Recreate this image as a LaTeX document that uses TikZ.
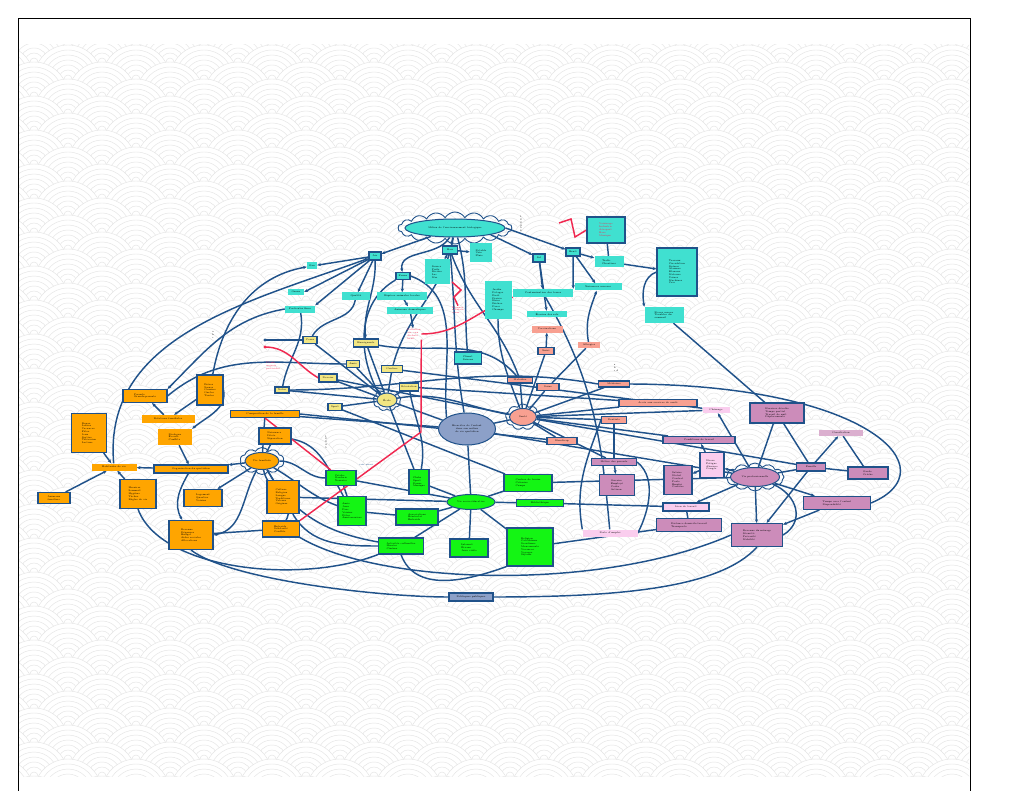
\documentclass[tikz,border=0pt]{standalone}
\usepackage{fontspec}
\usepackage{tikz}
\usetikzlibrary{arrows.meta,shapes.geometric,shapes.symbols,backgrounds}
\definecolor{mapteal}{RGB}{64,224,208}
\definecolor{maporange}{RGB}{255,165,0}
\definecolor{mapyellow}{RGB}{242,230,130}
\definecolor{mapsalmon}{RGB}{248,160,145}
\definecolor{mapmauve}{RGB}{204,140,186}
\definecolor{mappink}{RGB}{250,205,238}
\definecolor{mapgreen}{RGB}{20,245,20}
\definecolor{mapslate}{RGB}{140,160,200}
\definecolor{mapline}{RGB}{32,82,138}
\definecolor{mapred}{RGB}{240,40,80}
\definecolor{mapwave}{RGB}{228,228,228}
\newcommand{\mapfont}{\fontsize{2.4}{2.8}\selectfont}
\pgfdeclarelayer{edges}
\pgfsetlayers{background,edges,main}

\begin{document}
\begin{tikzpicture}[
  x=1pt,y=1pt,
  >={Stealth[length=3.8pt,width=3.2pt]},
  mapbox/.style={rectangle,inner sep=0.8pt,align=left,font=\mapfont,text=black},
  bd/.style={draw=mapline,line width=1.1pt},
  sz/.style 2 args={minimum width=#1,minimum height=#2},
  bio/.style={mapbox,fill=mapteal},
  biob/.style={bio,bd},
  sch/.style={mapbox,fill=mapyellow,bd},
  fam/.style={mapbox,fill=maporange},
  famb/.style={fam,bd},
  hlt/.style={mapbox,fill=mapsalmon},
  hltb/.style={hlt,bd},
  wrk/.style={mapbox,fill=mapmauve,bd},
  wrkl/.style={mapbox,fill=mappink},
  wrklb/.style={wrkl,bd},
  soc/.style={mapbox,fill=mapgreen,bd},
  hub/.style={ellipse,draw=mapline,line width=1pt,inner sep=0.5pt,font=\mapfont,align=center},
  ring/.style={cloud,cloud puffs=#1,cloud puff arc=120,cloud ignores aspect,draw=mapline,line width=0.9pt},
  redtext/.style={font=\mapfont,text=mapred,align=left,inner sep=0.5pt},
  note/.style={font=\mapfont,align=left,inner sep=0.5pt},
  link/.style={mapline,line width=1.45pt},
  arr/.style={link,->},
  redlink/.style={mapred,line width=1.45pt},
  wave/.style={mapwave,line width=0.45pt}
]
\useasboundingbox (0,0) rectangle (1024,-791);

% wave background
\begin{pgfonlayer}{background}
\fill[white] (0,0) rectangle (1024,-791);
\begin{scope}
  \clip (19,-45) rectangle (969,-776);
  \foreach \r in {0,...,45}{
    \foreach \c in {0,...,15}{
      \pgfmathsetmacro{\wx}{\c*68+mod(\r,2)*34}
      \pgfmathsetmacro{\wy}{-45-\r*17}
      \fill[white] (\wx-34,\wy) arc[start angle=180,end angle=0,radius=34] -- cycle;
      \foreach \k in {34,29,...,4}
        \draw[wave] (\wx-\k,\wy) arc[start angle=180,end angle=0,radius=\k];
    }
  }
\end{scope}
\draw[black,line width=0.8pt] (18,-791) -- (18,-18) -- (970,-18) -- (970,-791);
\end{pgfonlayer}

% environment (teal)
\node[ring=18,minimum width=114,minimum height=32] (envring) at (455,-228) {};
\node[hub,fill=mapteal,minimum width=100,minimum height=18] (env) at (455,-228) {Milieu de l'environnement biologique};
\node[biob,sz={12}{8}] (t1) at (375,-256) {Air};
\node[biob,sz={15}{8}] (t2) at (450,-250) {Eau};
\node[biob,sz={12}{8}] (t3) at (539,-258) {Sol};
\node[biob,sz={14}{8}] (t4) at (573,-252) {Bruit};
\node[biob,sz={14}{7}] (t5) at (403,-276) {Faune};
\node[bio,sz={10}{7}] (tl1) at (312,-266) {Gaz};
\node[bio,sz={16}{6}] (tl2) at (296,-292) {Ozone};
\node[bio,sz={30}{7}] (tl3) at (300,-309) {Particules fines};
\node[bio,sz={28}{7}] (tl4) at (356,-296) {Qualité};
\node[bio,sz={50}{7}] (tl5) at (402,-296) {Espèces animales locales};
\node[bio,sz={46}{7}] (tl6) at (410,-310) {Animaux domestiques};
\node[bio,sz={25}{25}] (tl7) at (437,-272) {Source\\Puits\\Rivière\\Lac\\Mer};
\node[bio,sz={22}{19}] (tl8) at (481,-253) {Potable\\Usée\\Pluie};
\node[bio,sz={27}{38}] (tl9) at (498,-300) {Jardin\\Potager\\Forêt\\Prairie\\Haies\\Friches\\Parcs\\Champs};
\node[bio,sz={60}{8}] (tl10) at (543,-293) {Contamination des terres};
\node[bio,sz={47}{7}] (tl11) at (598,-287) {Nuisances sonores};
\node[bio,sz={40}{6}] (tl12) at (547,-314) {Érosion des sols};
\node[bio,sz={29}{11}] (tl13) at (609,-262) {Trafic\\Chantiers};
\node[biob,sz={38}{26},text=mapred] (tb1) at (606,-230) {Voisinage\\Industrie\\Aéroport\\Bars\\Musique};
\node[biob,sz={40}{48}] (tb2) at (677,-272) {Travaux\\Circulation\\Sirènes\\Alarmes\\Klaxons\\Moteurs\\Usines\\Machines\\Cris};
\node[bio,sz={39}{16}] (tl14) at (664,-315) {Stress sonore\\Troubles du\\sommeil};
\node[biob,sz={27}{12}] (tb3) at (468,-358) {Climat\\Saisons};

% school (yellow)
\node[ring=9,minimum width=28,minimum height=22] (schoolring) at (387,-400) {};
\node[hub,fill=mapyellow,minimum width=20,minimum height=14] (school) at (387,-400) {École};
\node[sch,sz={14}{7}] (y1) at (310,-340) {Cours};
\node[sch,sz={25}{8}] (y2) at (366,-343) {Enseignants};
\node[sch,sz={13}{7}] (y3) at (353,-364) {Amis};
\node[sch,sz={21}{7}] (y4) at (392,-369) {Cantine};
\node[sch,sz={18}{8}] (y5) at (328,-378) {Devoirs};
\node[sch,sz={19}{8}] (y6) at (409,-387) {Récréation};
\node[sch,sz={14}{6}] (y7) at (282,-390) {Notes};
\node[sch,sz={14}{7}] (y8) at (335,-407) {Sport};

% family (orange)
\node[ring=10,minimum width=44,minimum height=27] (familyring) at (262,-461) {};
\node[hub,fill=maporange,minimum width=34,minimum height=17] (family) at (262,-461) {Vie familiale};
\node[famb,sz={44}{13}] (o1) at (145,-396) {Parents\\Grands-parents};
\node[famb,sz={26}{30}] (o2) at (210,-390) {Frères\\Sœurs\\Cousins\\Oncles\\Tantes};
\node[fam,sz={53}{8}] (o3) at (168,-419) {Relations familiales};
\node[famb,sz={35}{39}] (o4) at (89,-433) {Repas\\Loisirs\\Vacances\\Fêtes\\Jeux\\Sorties\\Télévision\\Lecture};
\node[fam,sz={34}{16}] (o5) at (175,-437) {Dialogue\\Écoute\\Conflits};
\node[fam,sz={45}{7}] (o6) at (114,-467) {Habitudes de vie};
\node[famb,sz={74}{8}] (o7) at (191,-469) {Organisation du quotidien};
\node[famb,sz={36}{29}] (o8) at (138,-494) {Horaires\\Sommeil\\Hygiène\\Tâches\\Règles de vie};
\node[famb,sz={32}{11}] (o9) at (54,-498) {Animaux\\familiers};
\node[famb,sz={38}{17}] (o10) at (203,-498) {Logement\\Quartier\\Voisins};
\node[famb,sz={44}{29}] (o11) at (191,-535) {Revenus\\Dépenses\\Budget\\Aides sociales\\Allocations};
\node[famb,sz={69}{7}] (o12) at (265,-414) {Composition de la famille};
\node[famb,sz={32}{16}] (o13) at (275,-436) {Naissance\\Décès\\Séparation};
\node[famb,sz={32}{33}] (o14) at (283,-497) {Culture\\Religion\\Langue\\Traditions\\Valeurs\\Origines};
\node[famb,sz={37}{16}] (o15) at (281,-529) {Entraide\\Solidarité\\Conflits};

% health (salmon)
\node[ring=9,minimum width=35,minimum height=26] (healthring) at (523,-417) {};
\node[hub,fill=mapsalmon,minimum width=27,minimum height=17] (health) at (523,-417) {Santé};
\node[hlt,sz={31}{7}] (s1) at (547,-329) {Vaccinations};
\node[hltb,sz={16}{7}] (s2) at (546,-351) {Suivi};
\node[hlt,sz={22}{6}] (s3) at (589,-345) {Allergies};
\node[hltb,sz={25}{6}] (s4) at (520,-380) {Maladies};
\node[hltb,sz={22}{7}] (s5) at (548,-387) {Soins};
\node[hltb,sz={31}{6}] (s6) at (614,-384) {Médecins};
\node[hltb,sz={25}{7}] (s7) at (614,-420) {Dentiste};
\node[hltb,sz={30}{7}] (s8) at (562,-441) {Handicap};
\node[hltb,sz={78}{7}] (s9) at (658,-403) {Accès aux services de santé};

% work (mauve)
\node[ring=12,minimum width=58,minimum height=28] (workring) at (755,-477) {};
\node[hub,fill=mapmauve,minimum width=49,minimum height=19] (work) at (755,-477) {Vie professionnelle};
\node[wrkl,sz={27}{6}] (p1) at (716,-410) {Chômage};
\node[wrk,sz={54}{20}] (p2) at (777,-413) {Horaires décalés\\Temps partiel\\Travail de nuit\\Déplacements};
\node[wrkl,sz={44}{6},fill=mapmauve!70] (p3) at (841,-433) {Conciliation};
\node[wrk,sz={72}{7}] (p4) at (699,-440) {Conditions de travail};
\node[wrk,sz={45}{7}] (p5) at (614,-462) {Métier des parents};
\node[wrklb,sz={24}{25}] (p6) at (712,-465) {Stress\\Fatigue\\Absence\\Congés};
\node[wrk,sz={28}{29}] (p7) at (678,-480) {Salaire\\Statut\\Contrat\\Poste\\Emploi\\Carrière};
\node[wrk,sz={35}{21}] (p8) at (617,-485) {Ouvrier\\Employé\\Cadre\\Artisan};
\node[wrk,sz={29}{8}] (p9) at (811,-467) {Famille};
\node[wrk,sz={40}{12}] (p10) at (868,-473) {Garde\\Crèche};
\node[wrk,sz={67}{13}] (p11) at (837,-503) {Temps avec l'enfant\\Disponibilité};
\node[wrklb,sz={46}{8}] (p12) at (686,-507) {Lieu de travail};
\node[wrk,sz={65}{13}] (p13) at (689,-525) {Distance domicile-travail\\Transports};
\node[wrk,sz={51}{23}] (p14) at (757,-535) {Revenus du ménage\\Sécurité\\Précarité\\Mobilité};
\node[wrkl,sz={55}{7}] (p15) at (610,-533) {Perte d'emploi};

% socio-educative (green)
\node[hub,fill=mapgreen,minimum width=48,minimum height=15] (socio) at (471,-502) {Vie socio-éducative};
\node[soc,sz={30}{15}] (g1) at (341,-478) {Crèche\\Garderie\\Nourrice};
\node[soc,sz={20}{25}] (g2) at (419,-482) {Clubs\\Sport\\Danse\\Musique};
\node[soc,sz={28}{29}] (g3) at (352,-511) {Amis\\Jeux\\Parc\\Voisins\\Fêtes\\Anniversaires};
\node[soc,sz={48}{17}] (g4) at (528,-483) {Centres de loisirs\\Colonies\\Camps};
\node[soc,sz={47}{7}] (g5) at (540,-503) {Bibliothèque};
\node[soc,sz={42}{16}] (g6) at (417,-517) {Associations\\Bénévolat\\Entraide};
\node[soc,sz={45}{16}] (g7) at (401,-546) {Activités culturelles\\Musées\\Cinéma};
\node[soc,sz={38}{18}] (g8) at (469,-548) {Internet\\Écrans\\Jeux vidéo};
\node[soc,sz={46}{38}] (g9) at (530,-547) {Religion\\Catéchisme\\Scoutisme\\Mouvements\\Vacances\\Voyages\\Séjours};

% centre and bottom
\node[hub,fill=mapslate,minimum width=57,minimum height=32] (center) at (467,-429) {Bien-être de l'enfant\\dans son milieu\\de vie quotidien};
\node[mapbox,fill=mapslate,bd,sz={44}{8}] (bottom) at (471,-597) {Politiques publiques};

% loose texts
\node[redtext] (redtxt1) at (414,-334) {Pollution\\air, eau\\déchets\\bruit};
\node[redtext] (redtxt2) at (458,-310) {Risques\\naturels\\crues};
\node[redtext] (redtxt3) at (273,-366) {Plomb\\engrais\\pesticides};
\node[note] (n1) at (213,-335) {a\\b\\c};
\node[note] (n2) at (521,-224) {1\\2\\3\\4\\5\\6};
\node[note] (n3) at (616,-368) {a\\b\\c d};
\node[note] (n4) at (326,-442) {1\\2\\3\\4\\5};
\node[note,text=mapline] (n5) at (366,-465) {voir aussi};
\coordinate (bluedot) at (265,-340);
\coordinate (reddot) at (265,-347);
\coordinate (zz1) at (559,-223);
\coordinate (zz2) at (452,-282);
\coordinate (rv) at (421,-432);

\begin{pgfonlayer}{edges}
% environment links
\draw[arr] (env) -- (t1);
\draw[arr] (env) -- (t2);
\draw[arr] (env.south east) -- (t3);
\draw[arr] (env.east) -- (t4);
\draw[arr] (env) to[out=-120,in=100] (t5);
\draw[link] (env) to[out=-75,in=95] (tb3);
\draw[link] (env) to[out=-100,in=75] (y4);
\draw[arr] (t1) -- (tl1);
\draw[arr] (t1) -- (tl2.east);
\draw[arr] (t1) -- (tl3.north east);
\draw[arr] (t1) -- (tl4);
\draw[arr] (t1) to[out=-88,in=95] (y2);
\draw[arr] (t2) -- (tl7);
\draw[arr] (t2) -- (tl8);
\draw[link] (t2) to[out=-85,in=100] (center);
\draw[link] (t2) to[out=-70,in=110] (s4);
\draw[arr] (t5) -- (tl5);
\draw[arr] (tl5) -- (tl6);
\draw[arr] (tl6) -- (redtxt1);
\draw[link] (t5.south west) to[out=-150,in=120] (school.north west);
\draw[link] (t5.east) to[out=-20,in=95] (center.north west);
\draw[arr] (t3) -- (tl10);
\draw[arr] (t3) -- (tl12);
\draw[arr] (t4) -- (tl13);
\draw[arr] (t4) -- (tl10.north east);
\draw[arr] (t4) -- (tl11);
\draw[link] (tb1) -- (tl13);
\draw[arr] (tl13) -- (tb2);
\draw[arr] (tb2.west) to[out=200,in=100] (tl14.north west);
\draw[link] (tl14) -- (p2);
\draw[arr] (s3) to[out=100,in=-110] (tl11);
\draw[link] (tl10) to[out=-60,in=95] (p15);
\draw[link] (tl9) to[out=-90,in=110] (health);
\draw[link] (tl4) to[out=-100,in=60] (y1);
\draw[link] (tl3) to[out=-80,in=80] (y7);
\draw[arr] (o6) to[out=95,in=200] (t1);
\draw[arr] (o2) to[out=80,in=190] (tl1);
\draw[arr] (tl3.west) to[out=190,in=45] (o1.north east);
\draw[link] (o1.east) to[out=40,in=180] (y3);
\draw[link] (bluedot) -- (y1);
\fill[mapline] (bluedot) circle (1.6);
% school links
\foreach \n in {y1,y2,y3,y4,y5,y6,y7,y8}
  \draw[link] (school) -- (\n);
\draw[link] (school) -- (g2);
\draw[link] (y6) to[out=-80,in=80] (g2);
\draw[link] (school) -- (center);
\draw[link] (school) to[out=10,in=170] (health);
\draw[link] (y4) -- (p1);
\draw[link] (y6) -- (s9);
\draw[link] (y8) -- (g4);
\draw[link] (y5) -- (health);
\draw[link] (y2) to[out=-10,in=130] (s4);
\draw[link] (y7.east) to[out=0,in=170] (s6.west);
% family links
\draw[arr] (family) -- (o7);
\draw[link] (family) -- (o12);
\draw[link] (family) -- (o13);
\draw[link] (family) -- (o14);
\draw[link] (family) to[out=-80,in=60] (o15);
\draw[arr] (family) -- (o10);
\draw[arr] (family) to[out=-120,in=10] (o11.east);
\draw[link] (family.east) to[out=0,in=180] (g1);
\draw[link] (family) to[out=-60,in=170] (g7);
\draw[link] (family) to[out=-30,in=160] (g3);
\draw[arr] (o4) -- (o6);
\draw[arr] (o9) -- (o6);
\draw[arr] (o8) -- (o6);
\draw[arr] (o7) -- (o6);
\draw[arr] (o3) -- (o1);
\draw[arr] (o2) -- (o3);
\draw[arr] (o2.east) to[out=-80,in=40] (o5.north east);
\draw[arr] (o5) -- (o7);
\draw[arr] (o7) to[out=-120,in=120] (o11);
\draw[link] (o11) -- (o15);
\draw[link] (o12) -- (center);
\draw[link] (o12.east) -- (s8);
\draw[link] (o13) to[out=-10,in=120] (g3);
\draw[link] (o14) -- (socio);
\draw[link] (o14) to[out=-60,in=180] (g7);
% bottom curves
\draw[link] (o15.south east) .. controls (380,-585) and (600,-592) .. (p14.west);
\draw[link] (o11.south) .. controls (230,-580) and (380,-597) .. (bottom.west);
\draw[link] (bottom.east) .. controls (620,-597) and (720,-588) .. (p14.south);
\draw[link] (o8.south) .. controls (160,-570) and (300,-585) .. (g7.south west);
\draw[link] (g7.south) to[out=-70,in=200] (g9.south west);
% socio links
\foreach \n in {g2,g4,g5,g6,g7,g8,g9}
  \draw[link] (socio) -- (\n);
\draw[link] (socio) -- (g1);
\draw[link] (center) -- (socio);
\draw[link] (g1) -- (g3);
\draw[link] (g3) -- (g6);
\draw[link] (g4) -- (work);
\draw[link] (g5) -- (p12);
\draw[link] (g9) -- (p13);
% health links
\foreach \n in {s2,s4,s5,s6,s7,s8}
  \draw[link] (health) -- (\n);
\draw[arr] (s2) -- (s1);
\draw[link] (s3) -- (s5);
\draw[link] (health) -- (center);
\draw[link] (health) -- (s9);
\draw[link] (health) -- (p9);
\draw[link] (health) -- (p1);
\draw[link] (health) -- (p5);
\draw[link] (health) -- (p4);
\draw[link] (s7) -- (p5);
\draw[link] (center) -- (work);
\draw[link] (s7.west) to[out=-110,in=100] (p15.north west);
% work links
\draw[arr] (work) -- (p6);
\draw[arr] (p6) -- (p4);
\draw[arr] (p6) -- (p7);
\draw[arr] (work) -- (p1);
\draw[link] (work) -- (p2);
\draw[link] (p2) -- (p9);
\draw[link] (work) -- (p9);
\draw[arr] (p9) -- (p3);
\draw[link] (p10) -- (p3);
\draw[link] (p9) -- (p10);
\draw[arr] (work) -- (p11);
\draw[arr] (work) -- (p14);
\draw[arr] (work) -- (p12);
\draw[link] (p12) -- (p13);
\draw[arr] (p11) -- (p14);
\draw[arr] (p9) -- (p14);
\draw[arr] (p5) -- (p8);
\draw[link] (s6.east) .. controls (870,-385) and (950,-470) .. (p11.east);
\draw[link] (p5.east) .. controls (660,-480) and (645,-520) .. (p15.east);
\draw[link] (p14.east) .. controls (805,-522) and (798,-495) .. (work.south east);
% red links
\draw[redlink] (redtxt1.east) to[out=0,in=200] (tl10.south west);
\draw[redlink] (redtxt1.south east) -- (rv) -- (o15.north east);
\draw[redlink] (reddot) to[out=0,in=150] (y5.west);
\fill[mapred] (reddot) circle (1.6);
\draw[redlink] (o12.south) -- (g1);
\draw[redlink] (zz1) -- (571,-219) -- (575,-237) -- (tb1.west);
\draw[redlink] (zz2) -- (461,-290) -- (454,-297) -- (redtxt2.north);
\end{pgfonlayer}
\end{tikzpicture}
\end{document}
